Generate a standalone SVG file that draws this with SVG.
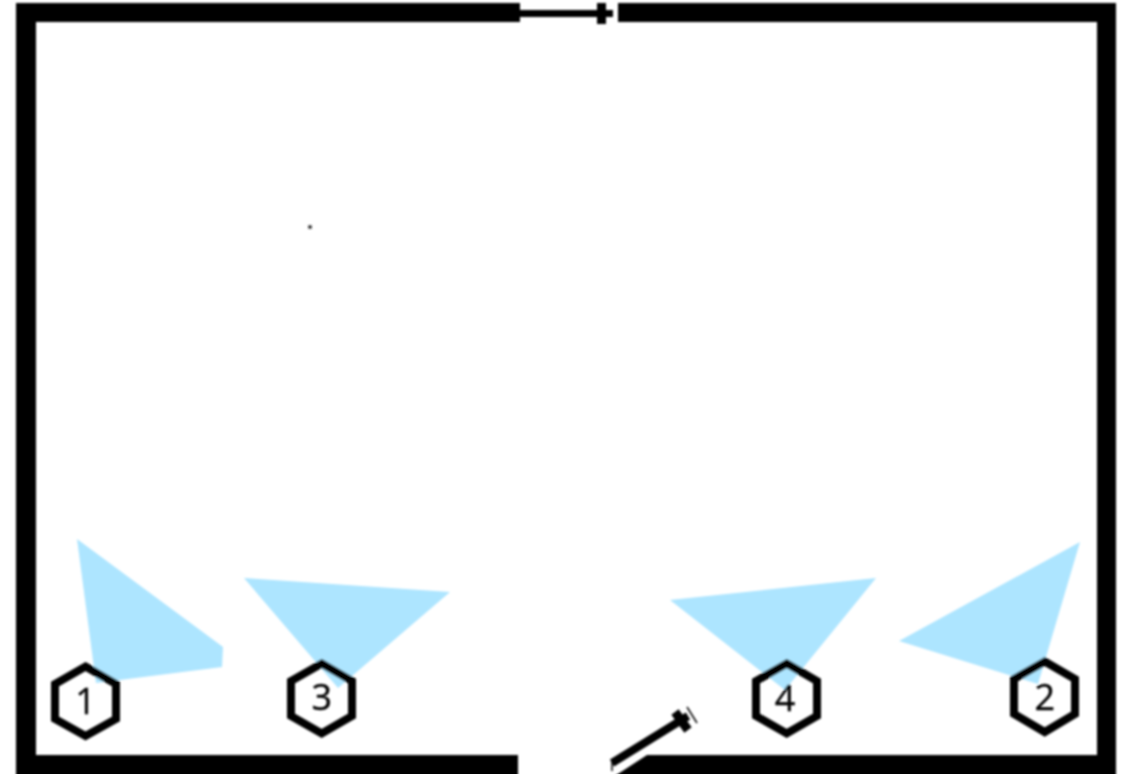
<svg xmlns="http://www.w3.org/2000/svg" width="1125" height="774" viewBox="0 0 1125 774">
<style>
.wall{fill:#000}
.zone{fill:#ade5ff}
.hex{fill:none;stroke:#000;stroke-width:8;stroke-linejoin:miter}
.num{font-family:"Open Sans","Liberation Sans",sans-serif;font-size:36px;fill:#000;stroke:#000;stroke-width:0.400;text-anchor:middle}
.door{stroke:#000;fill:none;stroke-linecap:butt}
</style>
<defs><filter id="soft" x="-5%" y="-5%" width="110%" height="110%"><feGaussianBlur stdDeviation="0.8"/></filter></defs>
<rect width="1125" height="774" fill="#fff"/>
<g filter="url(#soft)">
<g id="zones">
<polygon class="zone" points="77,539 223,647 222,667 96,683"/>
<polygon class="zone" points="244,578 450,592 338,688"/>
<polygon class="zone" points="670,600 876,578 785,690"/>
<polygon class="zone" points="1080,542 899,641 1038,684"/>
</g>
<g id="walls">
<polygon class="wall" points="16,3 520,3 520,22 36,22 36,755 518,755 518,785 16,785"/>
<polygon class="wall" points="618,3 1116,3 1116,785 601,785 647,755 1097,755 1097,22 618,22"/>
</g>
<g id="connectors">
<path class="door" stroke-width="7" d="M520,13.500H613"/>
<path class="door" stroke-width="9" d="M601.500,3V24"/>
<path class="door" stroke-width="8" d="M612,763L688,716"/>
<path class="door" stroke-width="9" d="M675,712L688,730"/>
<path class="door" stroke-width="1.500" d="M687,707L697,723"/>
<path class="door" stroke-width="1.500" d="M612,760L612,771"/>
</g>
<circle cx="310" cy="227" r="2" fill="#333"/>
<g id="node-1"><polygon class="hex" points="85.500,666.500 116,684 116,719 85.500,736 55,719 55,684"/><text class="num" x="85.500" y="714">1</text></g>
<g id="node-3"><polygon class="hex" points="321.700,663.500 352,681 352,716 321.700,733.500 291,716 291,681"/><text class="num" x="321.700" y="710">3</text></g>
<g id="node-4"><polygon class="hex" points="786.700,663.500 817,681 817,716 786.700,733.500 756,716 756,681"/><text class="num" x="785" y="711">4</text></g>
<g id="node-2"><polygon class="hex" points="1044.700,661.500 1075,679 1075,714 1044.700,732 1014,714 1014,679"/><text class="num" x="1044.700" y="710">2</text></g>
</g>
</svg>
